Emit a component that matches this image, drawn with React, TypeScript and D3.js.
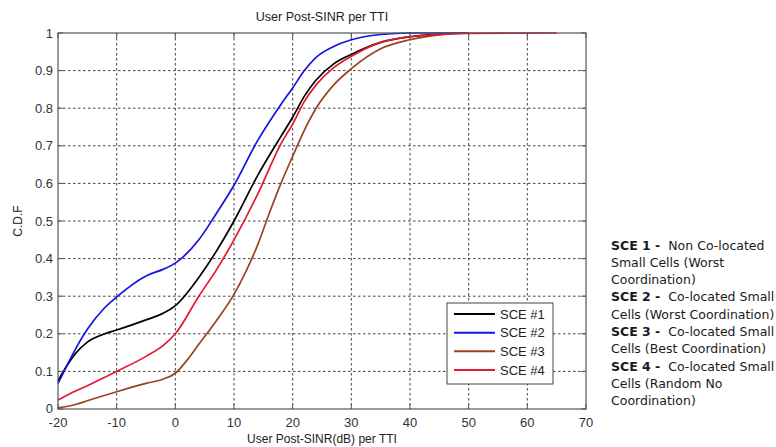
import React from "react";
import * as d3 from "d3";

const xTicks = [-20, -10, 0, 10, 20, 30, 40, 50, 60, 70];
const yTicks = [0, 0.1, 0.2, 0.3, 0.4, 0.5, 0.6, 0.7, 0.8, 0.9, 1];

const sce1X = [-20, -18.5, -17, -15, -12, -10, -5, -2, 0, 4, 7, 10, 14, 18, 20, 22, 24, 27, 30, 35, 40, 45, 50];
const sce1Y = [0.075, 0.115, 0.148, 0.178, 0.2, 0.21, 0.237, 0.255, 0.275, 0.35, 0.42, 0.5, 0.62, 0.725, 0.776, 0.832, 0.875, 0.918, 0.943, 0.975, 0.99, 0.997, 1.0];

const sce2X = [-20, -18.5, -17, -15, -12, -10, -5, -2, 0, 4, 7, 10, 14, 18, 20, 22, 24, 27, 30, 35, 40, 50];
const sce2Y = [0.068, 0.115, 0.16, 0.212, 0.27, 0.298, 0.354, 0.372, 0.388, 0.45, 0.52, 0.595, 0.713, 0.81, 0.854, 0.9, 0.935, 0.964, 0.982, 0.996, 1.0, 1.0];

const sce3X = [-20, -17, -15, -10, -5, -2, 0, 2, 4, 7, 10, 12, 14, 16, 18, 20, 22, 24, 27, 30, 35, 40, 45, 50];
const sce3Y = [0.003, 0.012, 0.022, 0.046, 0.068, 0.08, 0.095, 0.13, 0.172, 0.235, 0.305, 0.365, 0.435, 0.52, 0.6, 0.672, 0.742, 0.8, 0.862, 0.905, 0.958, 0.982, 0.995, 1.0];

const sce4X = [-20, -17, -15, -10, -5, -2, 0, 4, 7, 10, 14, 18, 20, 22, 24, 27, 30, 35, 40, 45, 50, 65];
const sce4Y = [0.024, 0.048, 0.062, 0.1, 0.14, 0.17, 0.2, 0.3, 0.37, 0.45, 0.57, 0.705, 0.758, 0.818, 0.862, 0.908, 0.938, 0.975, 0.99, 0.996, 0.999, 1.0];

const seriesNames = ["SCE #1", "SCE #2", "SCE #3", "SCE #4"];
const seriesColors = ["#000000", "#1414e0", "#9a4222", "#e4182f"];

const noteLines = [
  ["SCE 1 -", "  Non Co-located"],
  ["", "Small Cells (Worst"],
  ["", "Coordination)"],
  ["SCE 2 -", "  Co-located Small"],
  ["", "Cells (Worst Coordination)"],
  ["SCE 3 -", "  Co-located Small"],
  ["", "Cells (Best Coordination)"],
  ["SCE 4 -", "  Co-located Small"],
  ["", "Cells (Random No"],
  ["", "Coordination)"],
];

export default function App() {
  const W = 776, H = 447;
  const L = 58, R = 586, T = 33, B = 409;
  const x = d3.scaleLinear().domain([-20, 70]).range([L, R]);
  const y = d3.scaleLinear().domain([0, 1]).range([B, T]);
  const line = d3
    .line<[number, number]>()
    .x((d) => x(d[0]))
    .y((d) => y(d[1]))
    .curve(d3.curveMonotoneX);

  const series = [
    [sce1X, sce1Y],
    [sce2X, sce2Y],
    [sce3X, sce3Y],
    [sce4X, sce4Y],
  ].map(([xs, ys]) => xs.map((v, i) => [v, ys[i]] as [number, number]));

  const font = "'Liberation Sans', Arial, sans-serif";
  const tickLen = 5;
  const lg = { x0: 447, y0: 303, x1: 553, y1: 384 };
  const lgRows = [314, 332.7, 351.3, 370];

  return (
    <svg
      width={W}
      height={H}
      style={{ position: "absolute", left: 0, top: 0, background: "#fff" }}
      fontFamily={font}
    >
      <rect x={0} y={0} width={W} height={H} fill="#fff" />
      {xTicks.slice(1, -1).map((t) => (
        <line key={"gx" + t} x1={x(t)} x2={x(t)} y1={T} y2={B} stroke="#444" strokeWidth={1} strokeDasharray="2.5,2.5" />
      ))}
      {yTicks.slice(1, -1).map((t) => (
        <line key={"gy" + t} x1={L} x2={R} y1={y(t)} y2={y(t)} stroke="#444" strokeWidth={1} strokeDasharray="2.5,2.5" />
      ))}
      {series.map((s, i) => (
        <path key={"s" + i} d={line(s) || ""} fill="none" stroke={seriesColors[i]} strokeWidth={1.7} />
      ))}
      <rect x={L} y={T} width={R - L} height={B - T} fill="none" stroke="#555" strokeWidth={1.2} />
      {xTicks.map((t) => (
        <g key={"tx" + t}>
          <line x1={x(t)} x2={x(t)} y1={B} y2={B - tickLen} stroke="#555" />
          <line x1={x(t)} x2={x(t)} y1={T} y2={T + tickLen} stroke="#555" />
          <text x={x(t)} y={B + 17.5} textAnchor="middle" fontSize={13} fill="#333">
            {t}
          </text>
        </g>
      ))}
      {yTicks.map((t) => (
        <g key={"ty" + t}>
          <line x1={L} x2={L + tickLen} y1={y(t)} y2={y(t)} stroke="#555" />
          <line x1={R} x2={R - tickLen} y1={y(t)} y2={y(t)} stroke="#555" />
          <text x={L - 5} y={y(t) + (t === 0 ? 3.5 : 4.5)} textAnchor="end" fontSize={13} fill="#333">
            {String(t)}
          </text>
        </g>
      ))}
      <text x={(L + R) / 2} y={21} textAnchor="middle" fontSize={12.5} fill="#222">
        User Post-SINR per TTI
      </text>
      <text x={(L + R) / 2} y={443} textAnchor="middle" fontSize={12} fill="#222">
        User Post-SINR(dB) per TTI
      </text>
      <text transform={`translate(22, ${(T + B) / 2}) rotate(-90)`} textAnchor="middle" fontSize={12} fill="#222">
        C.D.F
      </text>
      <rect x={lg.x0} y={lg.y0} width={lg.x1 - lg.x0} height={lg.y1 - lg.y0} fill="#fff" stroke="#444" strokeWidth={1} />
      {seriesNames.map((n, i) => (
        <g key={"lg" + i}>
          <line x1={454} x2={495} y1={lgRows[i]} y2={lgRows[i]} stroke={seriesColors[i]} strokeWidth={2} />
          <text x={500} y={lgRows[i] + 4.5} fontSize={13} fill="#222">
            {n}
          </text>
        </g>
      ))}
      {noteLines.map((ln, i) => (
        <text
          key={"n" + i}
          x={611}
          y={249.5 + i * 17.3}
          fontSize={12.5}
          fontFamily="'DejaVu Sans', Verdana, sans-serif"
          fill="#1a1a1a"
          style={{ whiteSpace: "pre" }}
        >
          {ln[0] ? <tspan fontWeight="bold">{ln[0]}</tspan> : null}
          <tspan>{ln[1]}</tspan>
        </text>
      ))}
    </svg>
  );
}
